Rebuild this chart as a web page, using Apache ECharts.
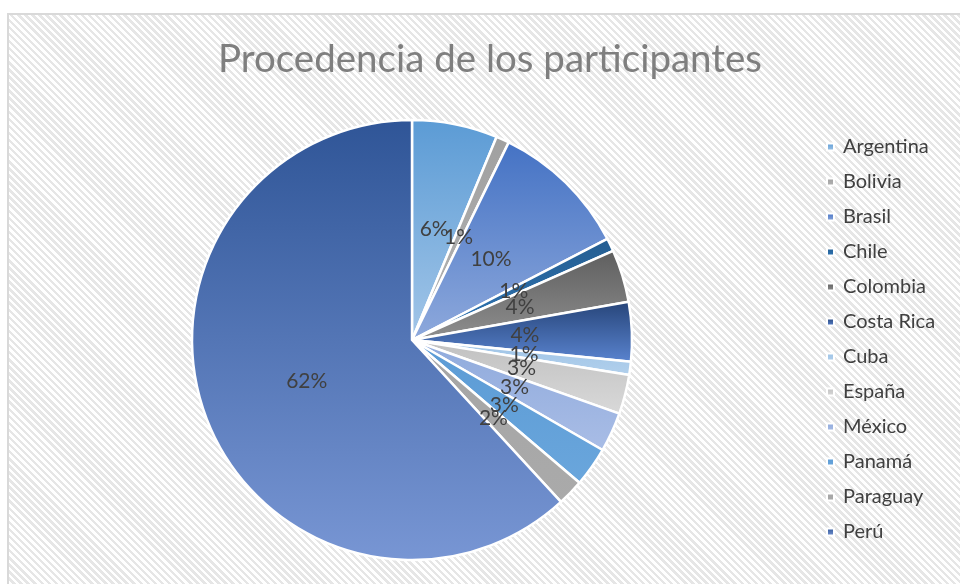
<!DOCTYPE html>
<html>
<head>
<meta charset="utf-8">
<script src="https://cdn.jsdelivr.net/npm/echarts@6/dist/echarts.min.js"></script>
<style>
  html, body { margin: 0; padding: 0; background: #fff; }
  .frame {
    position: absolute; left: 7px; top: 13px; width: 970px; height: 590px;
    border-left: 2px solid #d9d9d9; border-top: 2px solid #d9d9d9;
    background: repeating-linear-gradient(45deg, #ffffff 0px, #ffffff 2.5px, #e6e6e6 2.5px, #e6e6e6 5px);
  }
  #chart { position: absolute; left: 0; top: 0; width: 960px; height: 584px; }
</style>
</head>
<body>
<div class="frame"></div>
<div id="chart"></div>
<script>
// participantes por país
const countries = ['Argentina', 'Bolivia', 'Brasil', 'Chile', 'Colombia', 'Costa Rica', 'Cuba', 'España', 'México', 'Panamá', 'Paraguay', 'Perú']
const participants = [13, 2, 21, 2, 8, 9, 2, 6, 6, 6, 4, 128]
// color arriba / abajo de cada porción
const topColors = ['#5b9bd5', '#a0a0a0', '#4472c4', '#255e91', '#5e5e5e', '#264478', '#9dc3e6', '#c0c0c0', '#8faadc', '#5b9bd5', '#a5a5a5', '#2f5597']
const bottomColors = ['#a3c6e8', '#b4b4b4', '#8ea9dc', '#2e75b6', '#8f8f8f', '#5a84d0', '#b2d0ec', '#d9d9d9', '#a9bde6', '#6aa6dc', '#aaaaaa', '#7896d4']

const chart = echarts.init(document.getElementById('chart'))

const pieData = countries.map((name, i) => ({
  name: name,
  value: participants[i],
  itemStyle: {
    color: {
      type: 'linear', x: 0, y: 0, x2: 0, y2: 1,
      colorStops: [
        { offset: 0, color: topColors[i] },
        { offset: 1, color: bottomColors[i] }
      ]
    }
  }
}))

chart.setOption({
  backgroundColor: 'transparent',
  animation: false,
  title: {
    text: 'Procedencia de los participantes',
    left: 485,
    textAlign: 'center',
    top: 35,
    textStyle: {
      fontFamily: 'Lato',
      fontWeight: 'normal',
      fontSize: 38.5,
      color: '#7f7f7f'
    }
  },
  legend: {
    orient: 'vertical',
    left: 821,
    top: 132,
    icon: 'rect',
    itemWidth: 7,
    itemHeight: 7,
    itemGap: 15,
    textStyle: {
      fontFamily: 'Lato',
      fontSize: 20,
      lineHeight: 20,
      color: '#404040',
      padding: [0, 0, 0, 4]
    },
    data: countries
  },
  series: [
    {
      type: 'pie',
      center: [412, 340],
      radius: 220,
      startAngle: 90,
      clockwise: true,
      percentPrecision: 0,
      itemStyle: {
        borderColor: '#ffffff',
        borderWidth: 2.5
      },
      label: {
        show: true,
        position: 'inside',
        formatter: '{d}%',
        fontFamily: 'Lato',
        fontSize: 21,
        color: '#404040'
      },
      labelLine: { show: false },
      labelLayout: { hideOverlap: false },
      emphasis: { scale: false },
      data: pieData
    }
  ]
})
</script>
</body>
</html>
